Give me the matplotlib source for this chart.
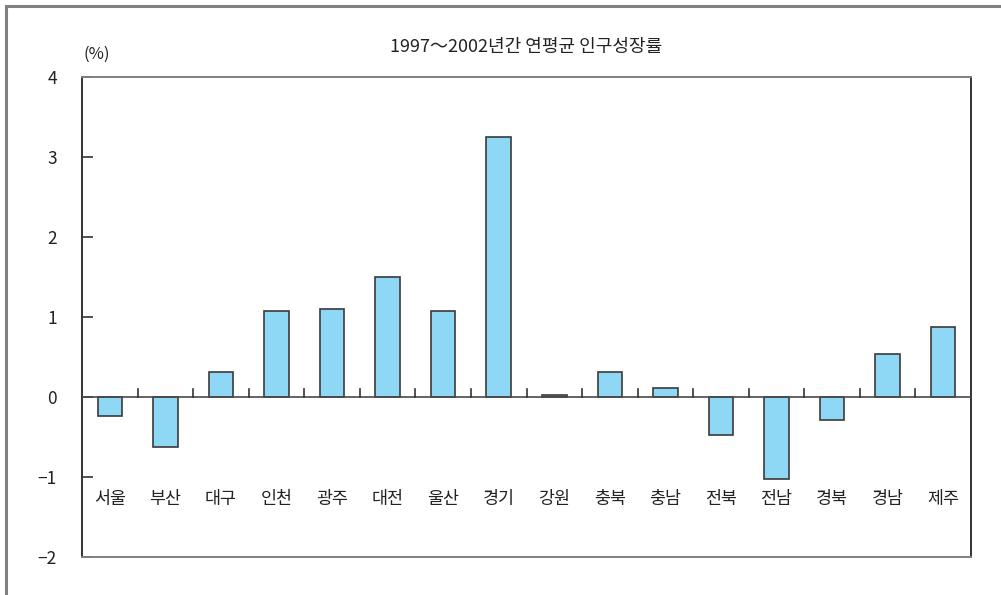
import matplotlib
matplotlib.use("Agg")
import matplotlib.pyplot as plt
from matplotlib.patches import Rectangle
import numpy as np

plt.rcParams['font.family'] = ['Noto Sans CJK KR', 'DejaVu Sans']

categories = ["서울", "부산", "대구", "인천", "광주", "대전", "울산", "경기",
              "강원", "충북", "충남", "전북", "전남", "경북", "경남", "제주"]
values = [-0.24, -0.62, 0.31, 1.07, 1.10, 1.50, 1.07, 3.25,
          0.03, 0.31, 0.11, -0.47, -1.03, -0.29, 0.54, 0.87]
yticks = [-2, -1, 0, 1, 2, 3, 4]
title = "1997～2002년간 연평균 인구성장률"
unit = "(%)"

W, H = 1001, 595
fig = plt.figure(figsize=(W / 100, H / 100), dpi=100)

# outer frame (left and top edges visible)
fig.patches.append(Rectangle((5.5 / W, -0.1), 1.2, (H - 6) / H + 0.1,
                             transform=fig.transFigure, fill=False,
                             edgecolor="#808080", linewidth=2.2))

left, right, top, bottom = 82, 971, 77, 557
ax = fig.add_axes([left / W, 1 - bottom / H, (right - left) / W, (bottom - top) / H])

n = len(categories)
x = np.arange(n)
ax.bar(x, values, width=0.44, color="#8ED8F5", edgecolor="#3a3a3a", linewidth=1.2, zorder=3)

ax.set_xlim(-0.5, n - 0.5)
ax.set_ylim(-2, 4)

# zero line
ax.axhline(0, color="#4a4a4a", linewidth=1.2, zorder=4)
# separators between categories (pointing up from zero line)
for b in np.arange(0.5, n - 0.5, 1.0):
    ax.plot([b, b], [0, 0.1], color="#333333", linewidth=1.2, zorder=4)

ax.set_yticks(yticks)
ax.set_yticklabels([str(t).replace("-", "\u2212") for t in yticks], fontsize=12.5, color="#222222")
ax.tick_params(axis="y", direction="in", length=8, width=1.2, color="#333333", pad=18)
ax.set_xticks([])

for s in ["left", "right"]:
    ax.spines[s].set_color("#333333")
    ax.spines[s].set_linewidth(1.4)
for s in ["top", "bottom"]:
    ax.spines[s].set_color("#808080")
    ax.spines[s].set_linewidth(1.4)

# category labels inside the axes below -1
for xi, c in zip(x, categories):
    ax.text(xi, -1.28, c, ha="center", va="center", fontsize=12.5, color="#222222")

fig.text((left + right) / 2 / W, 1 - 47 / H, title, ha="center", va="center",
         fontsize=13, color="#222222")
fig.text(97 / W, 1 - 54 / H, unit, ha="center", va="center", fontsize=12, color="#222222")

fig.savefig("out.png", dpi=100)
